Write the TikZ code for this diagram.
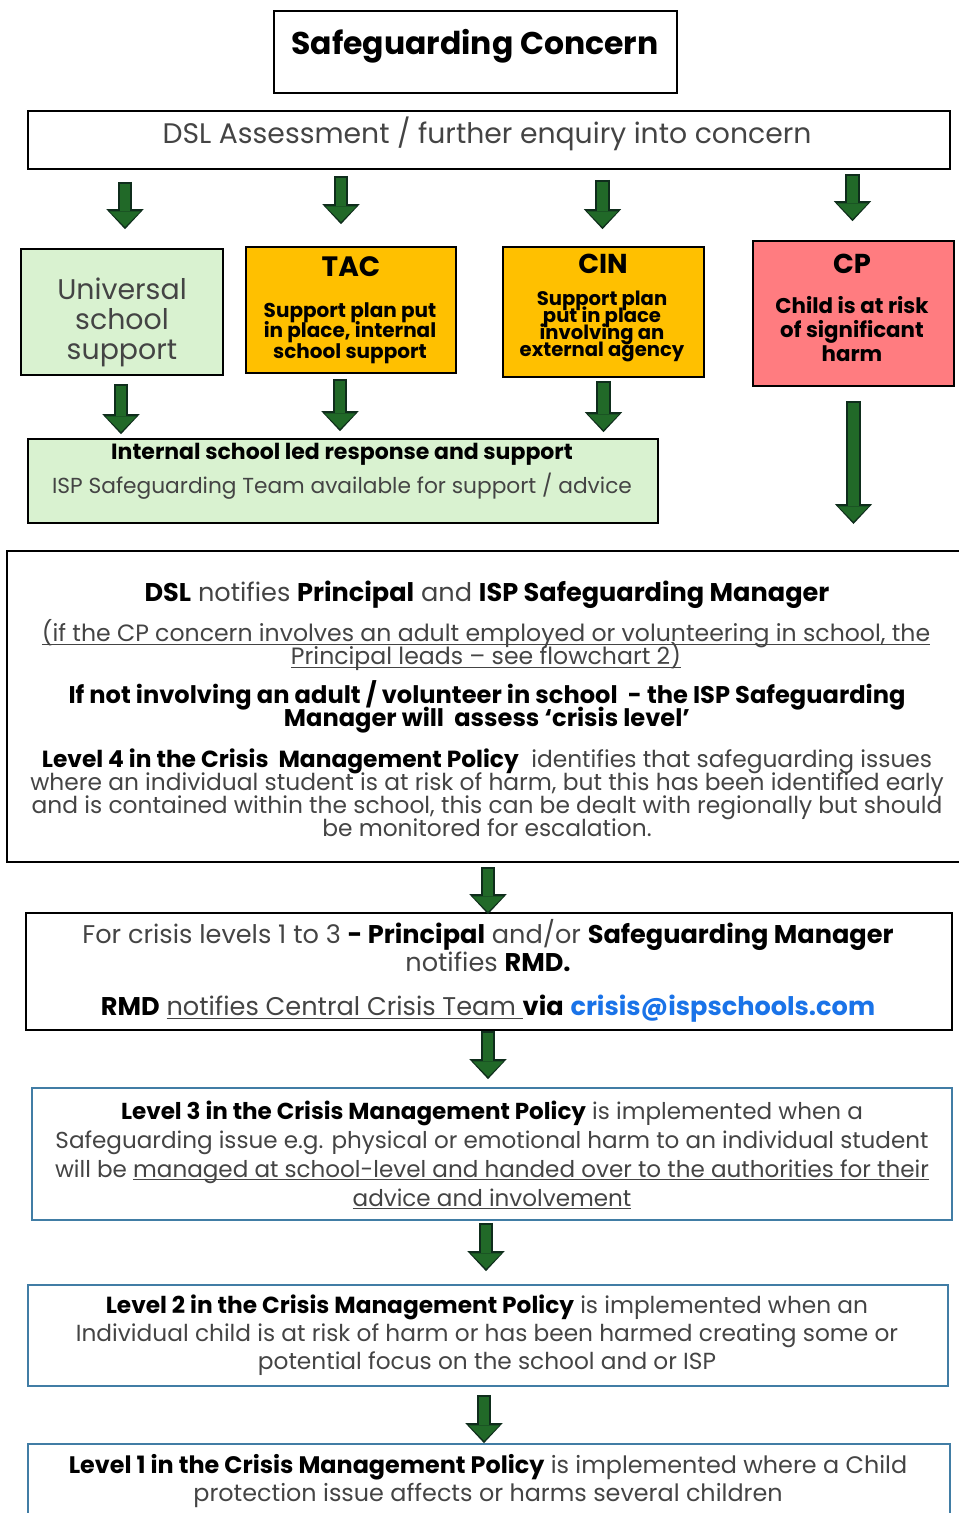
\documentclass[tikz,border=0pt]{standalone}
\usepackage{fontspec}
\setmainfont{Poppins}
\usetikzlibrary{arrows.meta,fit,calc}
\definecolor{boxgreen}{RGB}{217,242,208}
\definecolor{boxamber}{RGB}{255,192,0}
\definecolor{boxpink}{RGB}{255,124,128}
\definecolor{edgeblue}{RGB}{65,125,165}
\definecolor{arrowfill}{RGB}{33,105,40}
\definecolor{arrowedge}{RGB}{15,45,28}
\definecolor{txtgray}{RGB}{68,68,68}
\definecolor{maillink}{RGB}{26,115,232}
\newcommand{\kw}[1]{\textbf{\color{black}#1}}
\newcommand{\fs}[2]{\fontsize{#1}{#2}\selectfont\lineskiplimit=-100pt\lineskip=0pt}
\newsavebox{\undlbox}
\newcommand{\undl}[1]{\sbox{\undlbox}{#1}\rlap{\rule[-2.2pt]{\wd\undlbox}{0.6pt}}\usebox{\undlbox}}

\begin{document}
\begin{tikzpicture}
[x=0.75pt,y=-0.75pt]
\tikzset{plainbox/.style={draw=black,line width=1.2pt,inner sep=0pt}}
\tikzset{bluebox/.style={draw=edgeblue,line width=1.3pt,inner sep=0pt}}
\tikzset{body/.style={align=center,text=txtgray,inner sep=0pt}}
\tikzset{heavy/.style={align=center,text=black,inner sep=0pt,font=\bfseries}}
\tikzset{flow/.style={draw=arrowfill,line width=8pt,shorten <=1.5pt,shorten >=1.8pt,
  -{Triangle[width=23pt,length=11.5pt,line width=0pt]},
  preaction={draw=arrowedge,line width=11pt,shorten <=0pt,shorten >=0pt,
  -{Triangle[width=28pt,length=15pt,line width=0pt]}}}}
\useasboundingbox (0,0) rectangle (958,1513);

% boxes
\node [plainbox,fit={(274,11) (677,93)}] (title) {};
\node [plainbox,fit={(28,111) (950,169)}] (dsl) {};
\node [plainbox,fill=boxgreen,fit={(21,249) (223,375)}] (uni) {};
\node [plainbox,fill=boxamber,fit={(246,247) (456,373)}] (tac) {};
\node [plainbox,fill=boxamber,fit={(503,247) (704,377)}] (cin) {};
\node [plainbox,fill=boxpink,fit={(753,241) (954,386)}] (cp) {};
\node [plainbox,fill=boxgreen,fit={(28,439) (658,523)}] (internal) {};
\node [plainbox,line width=1.5pt,fit={(7,551) (965,862)}] (notify) {};
\node [plainbox,fit={(26,913) (952,1030)}] (crisis) {};
\node [bluebox,fit={(32,1088) (952,1220)}] (levelthree) {};
\node [bluebox,fit={(28,1285) (948,1386)}] (leveltwo) {};
\node [bluebox,fit={(28,1444) (950,1530)}] (levelone) {};

% texts
\node [heavy,font=\bfseries\fs{23.6}{28}] (titlelabel) at (475,46) {Safeguarding Concern};
\node [body,font=\fs{21.2}{25}] (dsllabel) at (487,134) {DSL Assessment / further enquiry into concern};
\node [body,font=\fs{21.3}{22.5}] (unilabel) at (122,322) {Universal\\school\\support};
\node [heavy,font=\bfseries\fs{21}{22}] (tachead) at (351,267) {TAC};
\node [heavy,font=\bfseries\fs{15}{15.4}] (tacbody) at (350,333) {Support plan put\\in place, internal\\school support};
\node [heavy,font=\bfseries\fs{20.5}{22}] (cinhead) at (603,264) {CIN};
\node [heavy,font=\bfseries\fs{14.7}{12.75}] (cinbody) at (602,326) {Support plan\\put in place\\involving an\\external agency};
\node [heavy,font=\bfseries\fs{20.5}{22}] (cphead) at (852,264) {CP};
\node [heavy,font=\bfseries\fs{16}{18}] (cpbody) at (852,329) {Child is at risk\\of significant\\harm};
\node [heavy,font=\bfseries\fs{16.5}{19}] (internalhead) at (342,454) {Internal school led response and support};
\node [body,font=\fs{16.3}{19}] (internalbody) at (342,486) {ISP Safeguarding Team available for support / advice};

\node [body,font=\fs{19.2}{22}] (notifyone) at (487,595)
  {\kw{DSL} notifies \kw{Principal} and \kw{ISP Safeguarding Manager}};
\node [body,font=\fs{17.7}{17.25}] (notifytwo) at (486,645)
  {\undl{(if the CP concern involves an adult employed or volunteering in school, the}\\
   \undl{Principal leads -- see flowchart 2)}};
\node [heavy,font=\bfseries\fs{18.1}{17.25}] (notifythree) at (487,707)
  {If not involving an adult / volunteer in school \ - the ISP Safeguarding\\
   Manager will \ assess ‘crisis level’};
\node [body,font=\fs{17.5}{17.25}] (notifyfour) at (487,793)
  {\kw{Level 4 in the Crisis \ Management Policy} \ identifies that safeguarding issues\\
   where an individual student is at risk of harm, but this has been identified early\\
   and is contained within the school, this can be dealt with regionally but should\\
   be monitored for escalation.};

\node [body,font=\fs{19.2}{21}] (crisisone) at (488,946)
  {For crisis levels 1 to 3 \kw{- Principal} and/or \kw{Safeguarding Manager}\\
   notifies \kw{RMD.}};
\node [body,font=\fs{19.2}{21}] (crisistwo) at (488,1009)
  {\kw{RMD} \undl{notifies Central Crisis Team\ }\kw{via} \textbf{\color{maillink}crisis@ispschools.com}};

\node [body,font=\fs{17.3}{21.75}] (levelthreetext) at (492,1155)
  {\kw{Level 3 in the Crisis Management Policy} is implemented when a\\
   Safeguarding issue e.g. physical or emotional harm to an individual student\\
   will be \undl{managed at school-level and handed over to the authorities for their}\\
   \undl{advice and involvement}};
\node [body,font=\fs{17.45}{21}] (leveltwotext) at (487,1335)
  {\kw{Level 2 in the Crisis Management Policy} is implemented when an\\
   Individual child is at risk of harm or has been harmed creating some or\\
   potential focus on the school and or ISP};
\node [body,font=\fs{17.9}{21}] (levelonetext) at (488,1481)
  {\kw{Level 1 in the Crisis Management Policy} is implemented where a Child\\
   protection issue affects or harms several children};

% arrows
\draw [flow] ($(uni.north |- dsl.south)+(3,12)$) -- ($(uni.north)+(3,-19)$);
\draw [flow] ($(tac.north |- dsl.south)+(-10,6)$) -- ($(tac.north)+(-10,-22)$);
\draw [flow] ($(cin.north |- dsl.south)+(-1,10)$) -- ($(cin.north)+(-1,-17)$);
\draw [flow] ($(cp.north |- dsl.south)+(-1,4)$) -- ($(cp.north)+(-1,-19)$);
\draw [flow] ($(uni.south)+(-1,8)$) -- ($(uni.south |- internal.north)+(-1,-4)$);
\draw [flow] ($(tac.south)+(-11,5)$) -- ($(tac.south |- internal.north)+(-11,-7)$);
\draw [flow] ($(cin.south)+(0,3)$) -- ($(cin.south |- internal.north)+(0,-6)$);
\draw [flow] ($(cp.south)+(0,14)$) -- ($(cp.south |- notify.north)+(0,-26)$);
\draw [flow] ($(crisis.north |- notify.south)+(-1,4)$) -- ($(crisis.north)+(-1,2)$);
\draw [flow] ($(crisis.south)+(-1,0)$) -- ($(crisis.south |- levelthree.north)+(-1,-8)$);
\draw [flow] ($(leveltwo.north |- levelthree.south)+(-2,2)$) -- ($(leveltwo.north)+(-2,-13)$);
\draw [flow] ($(leveltwo.south)+(-4,8)$) -- ($(leveltwo.south |- levelone.north)+(-4,0)$);

\end{tikzpicture}
\end{document}
